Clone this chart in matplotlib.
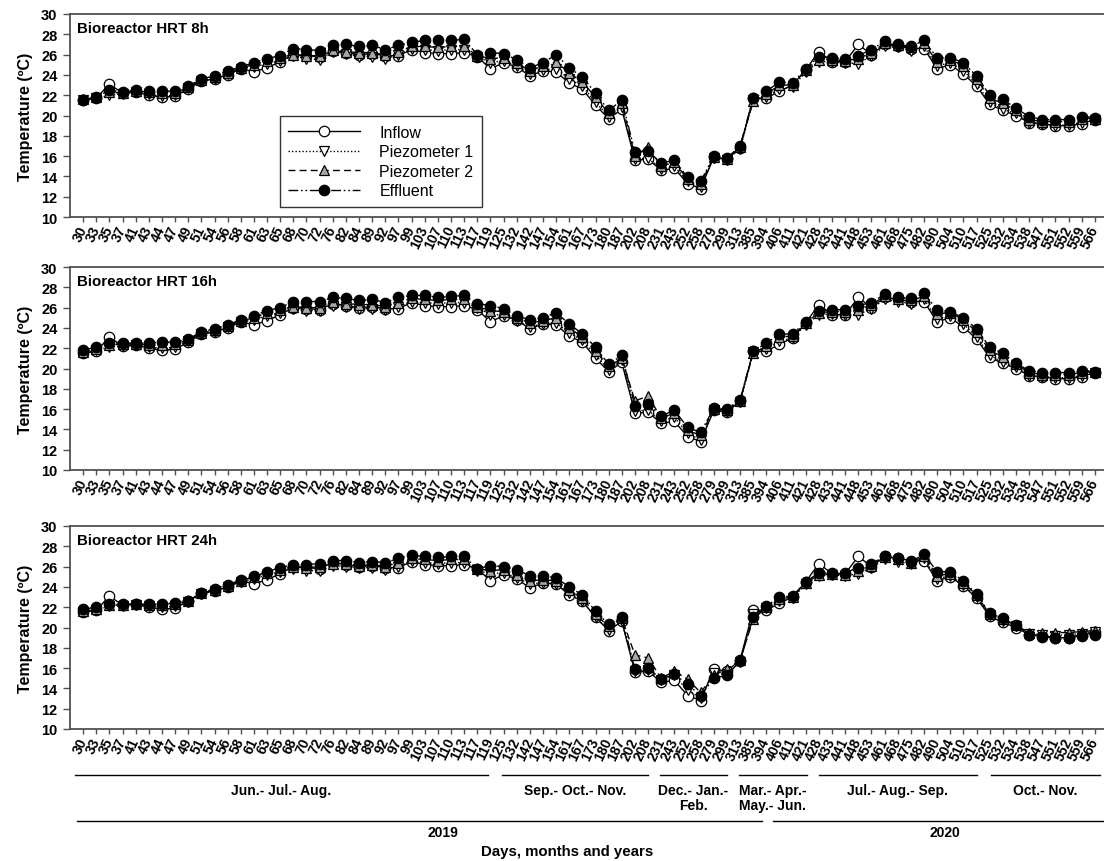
import matplotlib.pyplot as plt
import matplotlib.transforms as mtrans
import numpy as np

plt.rcParams['font.family'] = ['Liberation Sans', 'DejaVu Sans']

# sampling days (categorical x axis)
days = [30, 33, 35, 37, 41, 43, 44, 47, 49, 51, 54, 56, 58, 61, 63, 65, 68, 70, 72, 76,
        82, 84, 89, 92, 97, 99, 103, 107, 110, 113, 117, 119, 125, 132, 142, 147, 154, 161,
        167, 173, 180, 187, 202, 208, 231, 243, 252, 258, 279, 299, 313, 385, 394, 406,
        411, 421, 428, 433, 441, 448, 453, 461, 468, 475, 482, 490, 504, 510, 517, 525,
        532, 534, 538, 547, 551, 552, 559, 566]

# inflow is common to the three bioreactors
inflow = [21.5, 21.7, 23.1, 22.2, 22.3, 22.0, 21.8, 21.9, 22.6, 23.4, 23.6, 24.0, 24.6, 24.3, 24.7, 25.3, 26.0, 25.9, 25.8, 26.4,
          26.2, 26.0, 26.1, 25.9, 25.9, 26.5, 26.2, 26.1, 26.1, 26.2, 25.8, 24.6, 25.2, 24.8, 23.9, 24.4, 24.3, 23.2,
          22.6, 21.0, 19.7, 20.6, 15.6, 15.7, 14.6, 14.8, 13.3, 12.8, 15.9, 15.7, 16.8, 21.7, 21.7, 22.4,
          23.0, 24.5, 26.3, 25.3, 25.3, 27.0, 26.0, 27.0, 26.8, 26.6, 26.6, 24.6, 25.0, 24.1, 22.9, 21.1,
          20.5, 20.0, 19.3, 19.2, 19.0, 19.0, 19.2, 19.6]

# HRT 8h
piezo1_8h = [21.5, 21.7, 22.0, 22.1, 22.3, 22.1, 21.9, 22.0, 22.7, 23.4, 23.6, 24.1, 24.6, 24.8, 25.1, 25.4, 25.9, 25.6, 25.5, 26.3,
             26.1, 25.8, 25.8, 25.6, 26.0, 26.6, 26.5, 26.4, 26.5, 26.5, 25.8, 25.2, 25.4, 24.9, 24.1, 24.5, 24.6, 23.6,
             22.9, 21.3, 19.9, 20.8, 15.7, 15.8, 14.7, 15.0, 13.5, 13.0, 15.8, 15.6, 16.7, 21.5, 21.8, 22.6,
             22.8, 24.3, 25.3, 25.3, 25.2, 25.1, 25.9, 26.8, 26.7, 26.4, 26.8, 24.9, 25.2, 24.4, 23.1, 21.3,
             20.6, 20.2, 19.3, 19.2, 19.0, 19.1, 19.3, 19.6]
piezo2_8h = [21.6, 21.8, 22.3, 22.2, 22.4, 22.3, 22.2, 22.2, 22.8, 23.5, 23.8, 24.2, 24.7, 25.0, 25.4, 25.7, 26.0, 25.9, 25.9, 26.5,
             26.3, 26.2, 26.2, 26.0, 26.3, 26.8, 26.8, 26.7, 26.8, 26.8, 25.9, 25.6, 25.7, 25.2, 24.4, 24.9, 25.3, 24.2,
             23.3, 21.8, 20.2, 21.2, 16.0, 16.9, 15.0, 15.4, 13.7, 13.3, 15.9, 15.7, 16.9, 21.4, 22.1, 23.0,
             23.0, 24.5, 25.5, 25.5, 25.4, 25.6, 26.2, 27.1, 26.9, 26.7, 27.1, 25.3, 25.5, 24.9, 23.6, 21.7,
             21.2, 20.5, 19.6, 19.4, 19.4, 19.4, 19.7, 19.7]
effluent_8h = [21.5, 21.8, 22.5, 22.3, 22.5, 22.4, 22.4, 22.4, 22.9, 23.6, 23.9, 24.4, 24.8, 25.2, 25.6, 25.9, 26.6, 26.5, 26.4, 26.9,
               27.0, 26.8, 26.9, 26.5, 26.9, 27.2, 27.4, 27.4, 27.4, 27.5, 26.0, 26.2, 26.1, 25.5, 24.7, 25.2, 26.0, 24.7,
               23.8, 22.2, 20.5, 21.5, 16.4, 16.5, 15.3, 15.6, 13.9, 13.5, 16.0, 15.8, 17.0, 21.7, 22.4, 23.3,
               23.2, 24.6, 25.8, 25.7, 25.6, 25.9, 26.5, 27.3, 27.0, 26.8, 27.4, 25.7, 25.7, 25.2, 23.9, 22.0,
               21.6, 20.7, 19.9, 19.6, 19.6, 19.6, 19.9, 19.8]

# HRT 16h
piezo1_16h = [21.5, 21.8, 22.1, 22.2, 22.3, 22.1, 22.0, 22.1, 22.7, 23.4, 23.6, 24.1, 24.6, 24.8, 25.2, 25.5, 25.9, 25.7, 25.7, 26.2,
              26.1, 25.9, 25.9, 25.8, 26.1, 26.6, 26.5, 26.4, 26.5, 26.5, 26.0, 25.3, 25.3, 24.7, 24.1, 24.4, 24.5, 23.5,
              22.8, 21.3, 19.9, 20.8, 15.8, 15.9, 14.8, 15.2, 13.6, 13.0, 15.9, 15.7, 16.7, 21.6, 21.9, 22.7,
              23.0, 24.3, 25.3, 25.4, 25.3, 25.3, 25.9, 26.8, 26.6, 26.4, 26.8, 24.9, 25.2, 24.4, 23.1, 21.3,
              20.6, 20.1, 19.3, 19.2, 19.1, 19.1, 19.3, 19.6]
piezo2_16h = [21.6, 21.9, 22.3, 22.4, 22.4, 22.3, 22.3, 22.4, 22.8, 23.5, 23.8, 24.2, 24.7, 25.0, 25.5, 25.8, 26.1, 26.0, 26.0, 26.6,
              26.4, 26.3, 26.3, 26.1, 26.5, 26.9, 26.8, 26.7, 26.8, 26.8, 26.1, 25.7, 25.6, 25.0, 24.5, 24.7, 25.0, 24.0,
              23.1, 21.7, 20.2, 21.0, 16.8, 17.3, 15.1, 15.6, 13.9, 13.4, 16.0, 15.9, 16.8, 21.5, 22.2, 23.1,
              23.2, 24.5, 25.5, 25.6, 25.6, 25.8, 26.3, 27.1, 26.8, 26.7, 27.1, 25.4, 25.5, 24.8, 23.6, 21.8,
              21.1, 20.4, 19.6, 19.4, 19.4, 19.4, 19.6, 19.7]
effluent_16h = [21.8, 22.1, 22.5, 22.5, 22.5, 22.5, 22.6, 22.6, 22.9, 23.6, 23.9, 24.3, 24.8, 25.2, 25.7, 26.0, 26.6, 26.6, 26.6, 27.0,
                26.9, 26.7, 26.8, 26.5, 27.0, 27.2, 27.2, 27.0, 27.1, 27.2, 26.4, 26.2, 25.9, 25.2, 24.8, 25.0, 25.5, 24.4,
                23.4, 22.1, 20.4, 21.3, 16.3, 16.5, 15.3, 15.9, 14.2, 13.7, 16.1, 16.0, 16.9, 21.7, 22.5, 23.4,
                23.4, 24.6, 25.7, 25.8, 25.8, 26.2, 26.5, 27.3, 27.0, 26.9, 27.4, 25.8, 25.6, 25.0, 23.9, 22.1,
                21.5, 20.5, 19.8, 19.6, 19.6, 19.6, 19.8, 19.7]

# HRT 24h
piezo1_24h = [21.5, 21.7, 22.1, 22.1, 22.2, 22.1, 22.0, 22.1, 22.5, 23.3, 23.6, 24.0, 24.5, 24.8, 25.2, 25.5, 25.8, 25.6, 25.6, 26.1,
              26.0, 25.9, 25.9, 25.7, 26.0, 26.6, 26.4, 26.3, 26.4, 26.4, 25.6, 25.3, 25.4, 24.9, 24.3, 24.4, 24.3, 23.4,
              22.6, 21.0, 19.8, 20.6, 15.7, 15.8, 14.8, 15.3, 13.8, 13.1, 15.5, 15.4, 16.6, 21.3, 21.9, 22.6,
              22.9, 24.3, 25.1, 25.2, 25.1, 25.3, 25.9, 26.7, 26.5, 26.3, 26.8, 24.8, 25.1, 24.2, 23.0, 21.2,
              20.6, 20.1, 19.4, 19.3, 19.2, 19.3, 19.4, 19.6]
piezo2_24h = [21.6, 21.8, 22.2, 22.2, 22.3, 22.2, 22.2, 22.3, 22.6, 23.4, 23.7, 24.1, 24.6, 25.0, 25.4, 25.7, 26.0, 25.9, 26.0, 26.3,
              26.3, 26.1, 26.2, 26.0, 26.4, 26.8, 26.7, 26.6, 26.7, 26.7, 25.8, 25.6, 25.7, 25.2, 24.6, 24.7, 24.6, 23.7,
              22.9, 21.3, 20.1, 20.9, 17.3, 17.0, 15.0, 15.7, 14.9, 13.6, 15.3, 15.9, 16.8, 20.8, 22.0, 22.8,
              23.0, 24.4, 25.2, 25.3, 25.2, 25.6, 26.1, 26.9, 26.7, 26.4, 27.0, 25.1, 25.3, 24.4, 23.2, 21.3,
              20.8, 20.2, 19.5, 19.5, 19.5, 19.5, 19.6, 19.7]
effluent_24h = [21.8, 22.0, 22.3, 22.3, 22.3, 22.3, 22.3, 22.4, 22.6, 23.4, 23.8, 24.2, 24.7, 25.1, 25.5, 25.9, 26.2, 26.2, 26.3, 26.6,
                26.6, 26.4, 26.5, 26.4, 26.8, 27.1, 27.0, 26.9, 27.0, 27.0, 25.8, 26.1, 26.0, 25.7, 25.1, 25.1, 24.9, 24.0,
                23.2, 21.6, 20.3, 21.0, 15.9, 16.0, 14.9, 15.4, 14.4, 13.3, 15.0, 15.3, 16.7, 21.0, 22.1, 23.0,
                23.1, 24.5, 25.4, 25.4, 25.4, 25.9, 26.3, 27.0, 26.8, 26.5, 27.2, 25.5, 25.5, 24.6, 23.3, 21.4,
                20.9, 20.2, 19.3, 19.1, 19.0, 19.0, 19.3, 19.3]

titles = ['Bioreactor HRT 8h', 'Bioreactor HRT 16h', 'Bioreactor HRT 24h']
panels = [(piezo1_8h, piezo2_8h, effluent_8h),
          (piezo1_16h, piezo2_16h, effluent_16h),
          (piezo1_24h, piezo2_24h, effluent_24h)]

# month groups: (label, first index, last index)
months = [('Jun.- Jul.- Aug.', -0.6, 30.8),
          ('Sep.- Oct.- Nov.', 31.9, 43.0),
          ('Dec.- Jan.-\nFeb.', 43.9, 49.0),
          ('Mar.- Apr.-\nMay.- Jun.', 49.9, 55.1),
          ('Jul.- Aug.- Sep.', 56.0, 68.0),
          ('Oct.- Nov.', 69.1, 77.4)]
years = [('2019', -0.45, 51.7), ('2020', 52.5, 77.7)]

W, H = 1104, 862
fig = plt.figure(figsize=(W / 100, H / 100), dpi=100)
x = np.arange(len(days))
spine_col = '#505050'

tops = [15, 268, 527]
ph = 203
axes = []
for k, top in enumerate(tops):
    ax = fig.add_axes([70 / W, 1 - (top + ph) / H, (W - 70) / W, ph / H])
    p1, p2, ef = panels[k]
    ax.plot(x, inflow, color='k', lw=1, ls='-', marker='o', ms=7.5, mfc='white',
            mec='k', mew=0.9, label='Inflow')
    ax.plot(x, p1, color='k', lw=1, ls=(0, (1, 1.5)), marker='v', ms=7.5, mfc='white',
            mec='k', mew=0.9, label='Piezometer 1')
    ax.plot(x, p2, color='k', lw=1, ls=(0, (5, 3)), marker='^', ms=7.5, mfc='#a8a8a8',
            mec='k', mew=0.9, label='Piezometer 2')
    ax.plot(x, ef, color='k', lw=1, ls=(0, (7, 2, 1.2, 2, 1.2, 2)), marker='o', ms=7.5,
            mfc='k', mec='k', mew=0.9, label='Effluent')
    ax.set_xlim(-1, 77.7)
    ax.set_ylim(10, 30)
    ax.set_yticks(np.arange(10, 31, 2))
    ax.set_xticks(x)
    ax.set_xticklabels([str(d) for d in days], rotation=65, ha='right', va='center',
                       rotation_mode='anchor', fontsize=10, fontweight='bold')
    for lab in ax.get_yticklabels():
        lab.set_fontweight('bold')
        lab.set_fontsize(10.5)
    ax.tick_params(axis='y', length=5, width=1, color=spine_col, pad=4)
    ax.tick_params(axis='x', length=3.5, width=1, color=spine_col, pad=3)
    ax.spines['right'].set_visible(False)
    for s in ['left', 'top', 'bottom']:
        ax.spines[s].set_color(spine_col)
        ax.spines[s].set_linewidth(1.3)
    ax.set_ylabel('Temperature (ºC)', fontsize=11.5, fontweight='bold', labelpad=6)
    ax.text(0.007, 0.93, titles[k], transform=ax.transAxes, fontsize=10.8,
            fontweight='bold', va='center', ha='left')
    axes.append(ax)

leg = axes[0].legend(loc='upper left', bbox_to_anchor=(0.195, 0.537), fontsize=11.5,
                     frameon=True, fancybox=False, edgecolor='k', handlelength=4.5,
                     handletextpad=1.2, labelspacing=0.28, borderpad=0.55, numpoints=1)
leg.get_frame().set_linewidth(1.0)

# month / year annotations under the bottom panel
ax3 = axes[2]
tr = mtrans.blended_transform_factory(ax3.transData, fig.transFigure)
for lab, a, b in months:
    ax3.plot([a, b], [1 - 776 / H] * 2, color='k', lw=1, transform=tr, clip_on=False)
    ax3.text((a + b) / 2, 1 - 784 / H, lab, transform=tr, ha='center', va='top',
             fontsize=10, fontweight='bold', linespacing=1.1)
for lab, a, b in years:
    ax3.plot([a, b], [1 - 822 / H] * 2, color='k', lw=1, transform=tr, clip_on=False)
ax3.text(27.4, 1 - 833 / H, '2019', transform=tr, ha='center', va='center',
         fontsize=10, fontweight='bold')
ax3.text(65.6, 1 - 833 / H, '2020', transform=tr, ha='center', va='center',
         fontsize=10, fontweight='bold')
ax3.text(36.8, 1 - 852 / H, 'Days, months and years', transform=tr, ha='center',
         va='center', fontsize=10.8, fontweight='bold')

fig.savefig('out.png', dpi=100)
